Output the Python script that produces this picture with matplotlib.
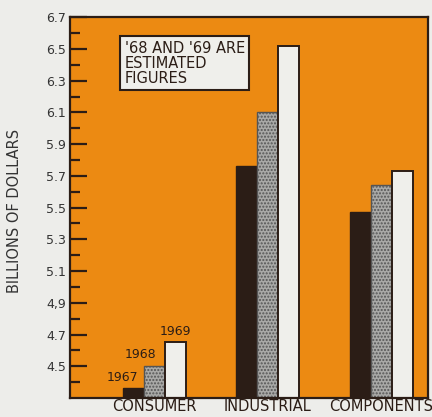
import numpy as np
import matplotlib.pyplot as plt

# categorias e valores (bilhoes de dolares)
categorias = ['CONSUMER', 'INDUSTRIAL', 'COMPONENTS']
anos = ['1967', '1968', '1969']
v1967 = [4.36, 5.76, 5.47]
v1968 = [4.50, 6.10, 5.64]
v1969 = [4.65, 6.52, 5.73]

ticks_maiores = [4.5, 4.7, 4.9, 5.1, 5.3, 5.5, 5.7, 5.9, 6.1, 6.3, 6.5, 6.7]
rotulos_y = ['4.5', '4.7', '4,9', '5.1', '5.3', '5.5', '5.7', '5.9', '6.1', '6.3', '6.5', '6.7']
ticks_menores = [4.4, 4.6, 4.8, 5.0, 5.2, 5.4, 5.6, 5.8, 6.0, 6.2, 6.4, 6.6]

laranja = '#EC8A12'
escuro = '#2B1D16'
cinza = '#A9A9A7'
branco = '#EFEFEB'
fundo = '#EDEDEA'

fig = plt.figure(figsize=(4.32, 4.17), dpi=100, facecolor=fundo)
ax = fig.add_axes([0.162, 0.0456, 0.829, 0.913])
ax.set_facecolor(laranja)

x = np.arange(len(categorias))
w = 0.185
ax.bar(x - w, np.array(v1967) - 4.3, w, bottom=4.3, color=escuro, edgecolor=escuro, linewidth=1)
ax.bar(x, np.array(v1968) - 4.3, w, bottom=4.3, color=cinza, edgecolor='#555555',
       hatch='.....', linewidth=1)
ax.bar(x + w, np.array(v1969) - 4.3, w, bottom=4.3, color=branco, edgecolor=escuro, linewidth=1.4)

# anos sobre as barras de consumo
ax.text(x[0] - w / 2 - 0.05, v1967[0] + 0.03, anos[0], ha='right', va='bottom',
        fontsize=9, color=escuro)
ax.text(x[0] + w / 2 - 0.07, v1968[0] + 0.03, anos[1], ha='right', va='bottom',
        fontsize=9, color=escuro)
ax.text(x[0] + w, v1969[0] + 0.03, anos[2], ha='center', va='bottom',
        fontsize=9, color=escuro)

# caixa de nota
ax.text(-0.26, 6.41, "'68 AND '69 ARE\nESTIMATED\nFIGURES", ha='left', va='center',
        fontsize=10.5, color=escuro, linespacing=1.0,
        bbox=dict(boxstyle='square,pad=0.3', facecolor=branco, edgecolor=escuro, linewidth=1.5))

ax.set_xlim(-0.74, 2.41)
ax.set_ylim(4.3, 6.7)
ax.set_xticks(x)
ax.set_xticklabels(categorias, fontsize=10.5, color=escuro)
ax.tick_params(axis='x', length=0, pad=1)
ax.set_yticks(ticks_maiores)
ax.set_yticklabels(rotulos_y, fontsize=9, color='#333333')
ax.set_yticks(ticks_menores, minor=True)
ax.tick_params(axis='y', which='major', direction='in', length=12, width=1.6, color=escuro, pad=3)
ax.tick_params(axis='y', which='minor', direction='in', length=7, width=1.6, color=escuro)
ax.set_ylabel('BILLIONS OF DOLLARS', fontsize=10.5, color='#333333')
ax.yaxis.set_label_coords(-0.134, 0.49)

for lado in ['left', 'top', 'bottom', 'right']:
    ax.spines[lado].set_color(escuro)
    ax.spines[lado].set_linewidth(1.6)

plt.savefig('out.png', dpi=100, facecolor=fundo)
